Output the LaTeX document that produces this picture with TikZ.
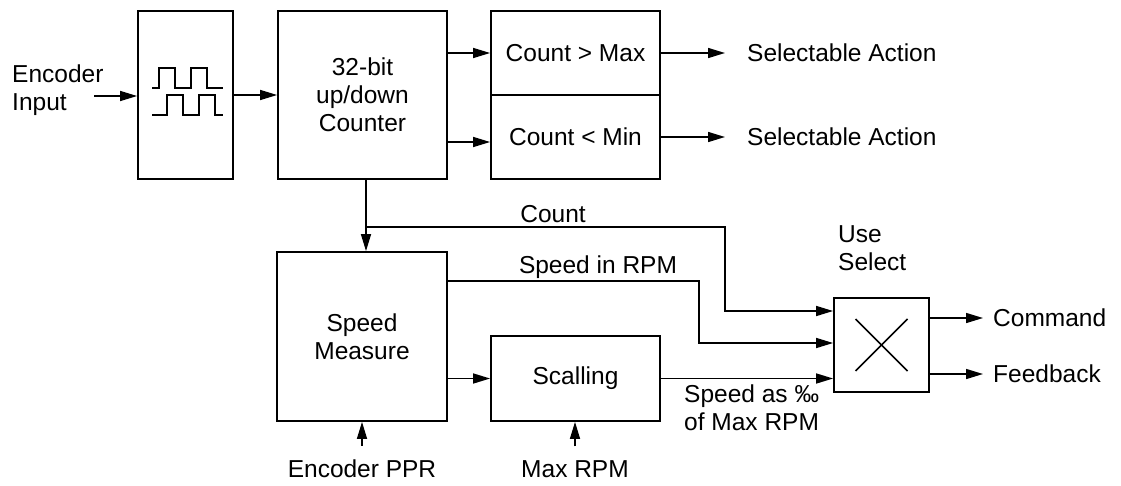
\documentclass[tikz,border=0pt]{standalone}
\usepackage{fontspec}
\setmainfont{Liberation Sans}
\usetikzlibrary{arrows.meta}

\begin{document}
\begin{tikzpicture}[x=1pt,y=-1pt,
    font=\fontsize{24.5}{28}\selectfont,
    blk/.style={draw, line width=1.8pt, inner sep=0pt, align=center},
    wire/.style={line width=1.5pt},
    arr/.style={wire, -{Triangle[length=17pt,width=10pt]}},
    txt/.style={inner sep=0pt, align=left}]
    \useasboundingbox (0,0) rectangle (1121,485);

    \node[blk, minimum width=95pt, minimum height=168pt] (shaper) at (185.5,95) {};
    \node[blk, minimum width=169pt, minimum height=168pt] (counter) at (362.5,95) {32-bit\\up/down\\Counter};
    \node[blk, minimum width=169pt, minimum height=84pt] (cmax) at (575.5,53) {Count > Max};
    \node[blk, minimum width=169pt, minimum height=84pt] (cmin) at (575.5,137) {Count < Min};
    \node[blk, minimum width=170pt, minimum height=169pt] (speed) at (362,336.5) {Speed\\Measure};
    \node[blk, minimum width=169pt, minimum height=85pt] (scale) at (575.5,378.5) {Scalling};
    \node[blk, minimum width=95pt, minimum height=94pt] (sel) at (881.5,345) {};

    \draw[wire] (152,88) -- (159,88) -- (159,68) -- (175,68) -- (175,88) -- (191,88) -- (191,68) -- (207,68) -- (207,88) -- (223,88);
    \draw[wire] (152,115) -- (167,115) -- (167,95) -- (183,95) -- (183,115) -- (199,115) -- (199,95) -- (215,95) -- (215,115) -- (223,115);
    \draw[wire] ([shift={(-26pt,26pt)}]sel.center) -- ([shift={(26pt,-26pt)}]sel.center);
    \draw[wire] ([shift={(-26pt,-26pt)}]sel.center) -- ([shift={(26pt,26pt)}]sel.center);

    \node[txt, anchor=west] (encin) at (12,90) {Encoder\\Input};
    \node[txt, anchor=west] (act1) at (747,53) {Selectable Action};
    \node[txt, anchor=west] (act2) at (747,137) {Selectable Action};
    \node[txt] (lcount) at (553,214) {Count};
    \node[txt] (lrpm) at (598,267) {Speed in RPM};
    \node[txt, anchor=west] (lpct) at (684,408) {Speed as ‰\\of Max RPM};
    \node[txt, anchor=west] (usesel) at (838,248) {Use\\Select};
    \node[txt] (ppr) at (362,469) {Encoder PPR};
    \node[txt] (maxrpm) at (575,469) {Max RPM};
    \node[txt, anchor=west] (cmd) at (993,318) {Command};
    \node[txt, anchor=west] (fb) at (993,374) {Feedback};

    \coordinate (inpt) at (94,96);
    \coordinate (lowin) at ([yshift=-5pt]cmin.west);
    \coordinate (tap) at (366,227);
    \coordinate (cbend) at (725,227);
    \coordinate (rbend) at (699,281);

    \draw[arr] (inpt) -- (shaper.west |- inpt);
    \draw[arr] (shaper.east) -- (counter.west);
    \draw[arr] (counter.east |- cmax.west) -- (cmax.west);
    \draw[arr] (counter.east |- lowin) -- (lowin);
    \draw[arr] (cmax.east) -- ([xshift=-22pt]act1.west);
    \draw[arr] (cmin.east) -- ([xshift=-22pt]act2.west);
    \draw[wire] (counter.south -| tap) -- (tap);
    \draw[arr] (tap) -- (speed.north -| tap);
    \draw[arr] (tap) -- (cbend) |- ([yshift=34pt]sel.west);
    \draw[arr] (speed.east |- rbend) -- (rbend) |- ([yshift=2pt]sel.west);
    \draw[arr] (speed.east |- scale.west) -- (scale.west);
    \draw[arr] (scale.east) -- (sel.west |- scale.east);
    \draw[arr] ([yshift=14pt]ppr.north) -- (speed.south -| ppr.north);
    \draw[arr] ([yshift=14pt]maxrpm.north) -- (scale.south -| maxrpm.north);
    \draw[arr] ([yshift=27pt]sel.east) -- ([xshift=-10pt]cmd.west);
    \draw[arr] ([yshift=-29pt]sel.east) -- ([xshift=-10pt]fb.west);
\end{tikzpicture}
\end{document}
